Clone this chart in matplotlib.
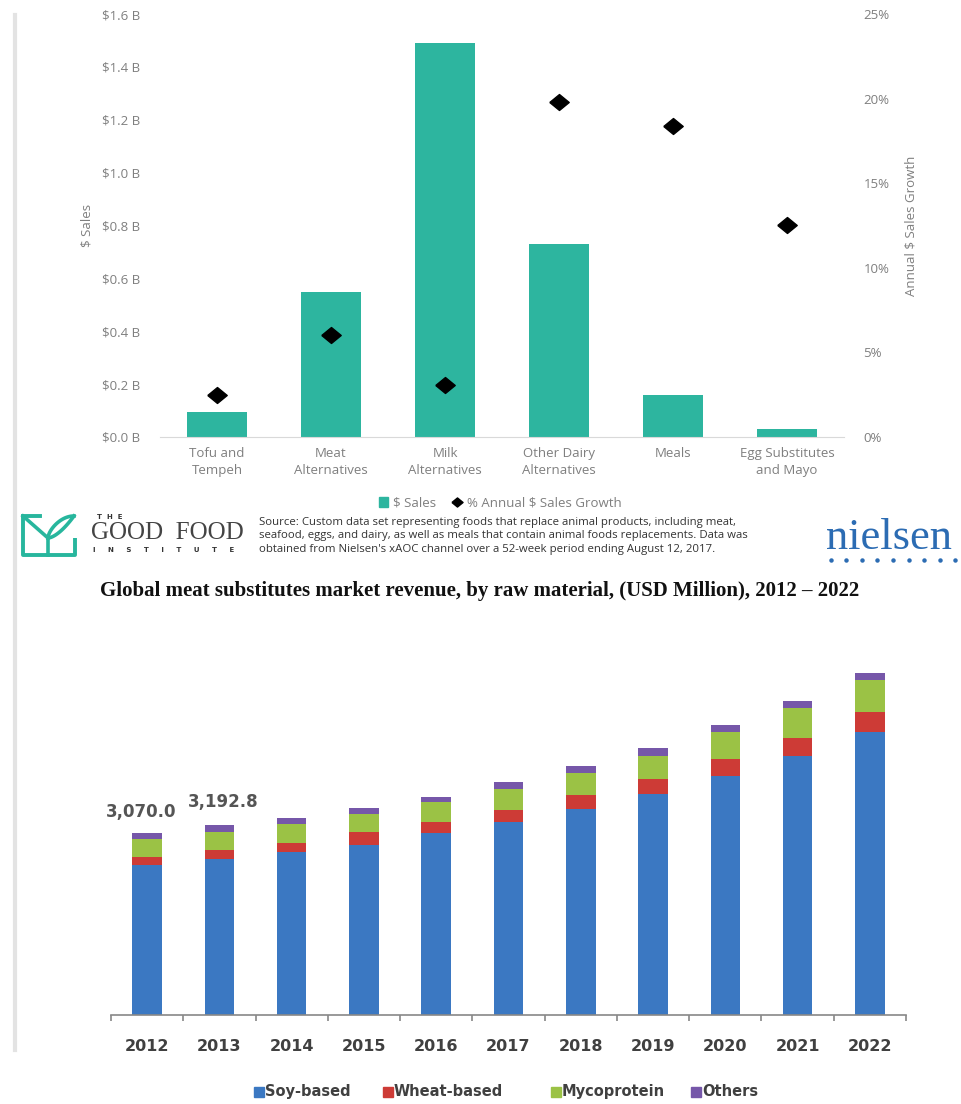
import matplotlib
matplotlib.use("Agg")
import matplotlib.pyplot as plt
import numpy as np
from matplotlib.patches import Patch
from matplotlib.lines import Line2D
from matplotlib.ticker import FuncFormatter, MultipleLocator, FixedLocator

# ---------------- data: top chart ----------------
top_categories = ["Tofu and\nTempeh", "Meat\nAlternatives", "Milk\nAlternatives",
                  "Other Dairy\nAlternatives", "Meals", "Egg Substitutes\nand Mayo"]
sales_billion = [0.095, 0.55, 1.49, 0.73, 0.16, 0.03]
growth_pct = [2.5, 6.0, 3.1, 19.8, 18.4, 12.5]

# ---------------- data: bottom chart ----------------
years = ["2012", "2013", "2014", "2015", "2016", "2017", "2018", "2019", "2020", "2021", "2022"]
soy = [2530, 2633, 2750, 2868, 3070, 3256, 3475, 3728, 4032, 4369, 4774]
wheat = [135, 152, 152, 219, 186, 202, 236, 253, 287, 304, 337]
myco = [304, 306, 320, 304, 337, 354, 371, 388, 455, 506, 540]
others = [101, 102, 101, 101, 84, 118, 118, 135, 118, 118, 118]
label_values = ["3,070.0", "3,192.8"]
series_names = ["Soy-based", "Wheat-based", "Mycoprotein", "Others"]

W, H = 961, 1104
fig = plt.figure(figsize=(W / 100, H / 100), dpi=100)


def px_axes(x0, y0, x1, y1, **kw):
    return fig.add_axes([x0 / W, 1 - y1 / H, (x1 - x0) / W, (y1 - y0) / H], **kw)


# left frame shadow line
fig.add_artist(Line2D([15 / W, 15 / W], [1 - 15 / H, 1 - 1050 / H], color="#e3e3e3", lw=3))

# ---------------- top chart ----------------
GRAY = "#7f7f7f"
TEAL = "#2db59f"
tfont = "Open Sans"
FS = 9.5
ax = px_axes(160, 14, 844, 437)
x = np.arange(len(top_categories))
ax.bar(x, sales_billion, width=0.53, color=TEAL, zorder=2)
ax.set_xlim(-0.5, len(top_categories) - 0.5)
ax.set_ylim(0, 1.6)
ax.yaxis.set_major_locator(MultipleLocator(0.2))
ax.yaxis.set_major_formatter(FuncFormatter(lambda v, p: f"${v:.1f} B"))
ax.set_xticks(x)
ax.set_xticklabels(top_categories, fontsize=FS, color=GRAY, family=tfont, linespacing=1.45)
for s in ["top", "left", "right"]:
    ax.spines[s].set_visible(False)
ax.spines["bottom"].set_color("#d9d9d9")
ax.tick_params(axis="both", length=0)
ax.tick_params(axis="x", pad=7)
ax.tick_params(axis="y", pad=14)
for lab in ax.get_yticklabels():
    lab.set_fontsize(FS); lab.set_color(GRAY); lab.set_family(tfont)
ax.set_ylabel("$ Sales", fontsize=FS, color=GRAY, family=tfont)
ax.yaxis.set_label_coords(-0.097, 0.5)

ax2 = ax.twinx()
diamond = [(-1, 0), (0, 0.82), (1, 0), (0, -0.82), (-1, 0)]
ax2.plot(x, growth_pct, linestyle="none", marker=diamond, markersize=14, color="black", zorder=3)
ax2.set_ylim(0, 25)
ax2.yaxis.set_major_locator(MultipleLocator(5))
ax2.yaxis.set_major_formatter(FuncFormatter(lambda v, p: f"{v:.0f}%"))
for s in ["top", "left", "right", "bottom"]:
    ax2.spines[s].set_visible(False)
ax2.tick_params(axis="y", length=0, pad=14)
for lab in ax2.get_yticklabels():
    lab.set_fontsize(FS); lab.set_color(GRAY); lab.set_family(tfont)
ax2.set_ylabel("Annual $ Sales Growth", fontsize=FS, color=GRAY, family=tfont)
ax2.yaxis.set_label_coords(1.088, 0.5)

h1 = Patch(facecolor=TEAL, edgecolor=TEAL)
h2 = Line2D([], [], linestyle="none", marker=diamond, markersize=8, color="black")
leg = fig.legend([h1, h2], ["$ Sales", "% Annual $ Sales Growth"], loc="center",
                 bbox_to_anchor=(500 / W, 1 - 503 / H), ncol=2, frameon=False,
                 prop={"family": tfont, "size": FS}, handlelength=0.7, handleheight=0.7,
                 handletextpad=0.4, columnspacing=1.2)
for t in leg.get_texts():
    t.set_color(GRAY)

# ---------------- logos & source ----------------
lax = px_axes(18, 508, 82, 560)
lax.set_xlim(0, 64); lax.set_ylim(52, 0); lax.axis("off")
LT = "#27b69d"
lax.plot([5, 5, 57, 57], [8, 47, 47, 30], color=LT, lw=2.8, solid_capstyle="butt")
lax.plot([5, 22], [8, 8], color=LT, lw=2.8)
lax.plot([5, 30], [8, 30], color=LT, lw=2.6)
t_ = np.linspace(0, 1, 40)
lax.plot(30 + 26 * t_, 30 - 22 * np.sin(np.pi * t_ / 2) ** 0.6, color=LT, lw=2.6)
lax.plot(30 + 26 * t_, 30 - 22 * t_ ** 1.6, color=LT, lw=2.6)
lax.plot([30, 30], [30, 47], color=LT, lw=2.6)

fig.text(97 / W, 1 - 517 / H, "T  H  E", fontsize=5, color="#333333", family="DejaVu Sans",
         ha="left", va="center", weight="bold")
fig.text(91 / W, 1 - 533 / H, "GOOD  FOOD", fontsize=18, color="#444444", family="Liberation Serif",
         ha="left", va="center")
fig.text(93 / W, 1 - 550 / H, "I     N     S     T     I     T     U     T     E", fontsize=5,
         color="#333333", family="DejaVu Sans", ha="left", va="center", weight="bold")

src = ("Source: Custom data set representing foods that replace animal products, including meat,\n"
       "seafood, eggs, and dairy, as well as meals that contain animal foods replacements. Data was\n"
       "obtained from Nielsen's xAOC channel over a 52-week period ending August 12, 2017.")
fig.text(259 / W, 1 - 536 / H, src, fontsize=8.2, color="#333333", family=tfont,
         ha="left", va="center", linespacing=1.3)

fig.text(826 / W, 1 - 538 / H, "nielsen", fontsize=32, color="#2c6cb3", family="Liberation Serif",
         ha="left", va="center")
fig.add_artist(Line2D([831 / W + i * 15.5 / W for i in range(9)], [1 - 560 / H] * 9, linestyle="none",
                      marker="o", markersize=2.2, color="#2c6cb3"))

# ---------------- bottom chart ----------------
fig.text(480 / W, 1 - 591 / H,
         "Global meat substitutes market revenue, by raw material, (USD Million), 2012 \u2013 2022",
         fontsize=15, weight="bold", family="Liberation Serif", ha="center", va="center", color="#111111")

bx = px_axes(111, 641, 906, 1015)
xb = np.arange(len(years))
colors = ["#3b78c2", "#cd3b36", "#9bc245", "#7657a9"]
bottom = np.zeros(len(years))
for vals, c in zip([soy, wheat, myco, others], colors):
    bx.bar(xb, vals, bottom=bottom, width=0.41, color=c, edgecolor="none", zorder=2)
    bottom = bottom + np.array(vals)
bx.set_xlim(-0.5, len(years) - 0.5)
bx.set_ylim(0, 6300)
bx.set_yticks([])
for s in ["top", "left", "right"]:
    bx.spines[s].set_visible(False)
bx.spines["bottom"].set_color("#888888")
bx.spines["bottom"].set_linewidth(1.2)
bx.set_xticks(xb)
bx.set_xticklabels(years, fontsize=11.5, weight="bold", color="#404040", family="DejaVu Sans")
bx.tick_params(axis="x", which="major", length=0, pad=17)
bx.xaxis.set_minor_locator(FixedLocator(np.arange(-0.5, len(years), 1.0)))
bx.tick_params(axis="x", which="minor", length=4, color="#888888", width=1.2, direction="out")

offsets = [(-6, 12), (4, 14)]
for i, (lab, off) in enumerate(zip(label_values, offsets)):
    bx.annotate(lab, xy=(xb[i], bottom[i]), xytext=off, textcoords="offset pixels",
                ha="center", va="bottom", fontsize=12, weight="bold", color="#555555",
                family="DejaVu Sans")

# bottom legend (manual, baseline aligned)
leg_x = [255, 384, 552, 692]
leg_y = 1 - 1096 / H
for name, c, lx in zip(series_names, colors, leg_x):
    fig.add_artist(Line2D([(lx + 4) / W], [leg_y + 4.5 / H], linestyle="none", marker="s",
                          markersize=6.5, color=c))
    fig.text((lx + 10) / W, leg_y, name, fontsize=10.5, weight="bold", color="#404040",
             family="DejaVu Sans", ha="left", va="baseline")

fig.savefig("out.png", dpi=100)
